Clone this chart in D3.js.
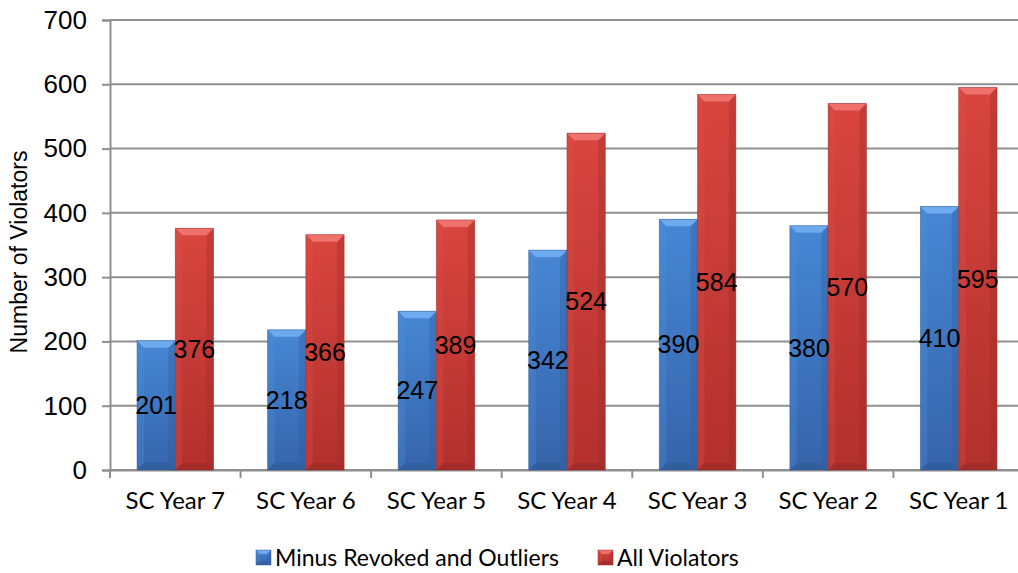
<!DOCTYPE html>
<html>
<head>
<meta charset="utf-8">
<script src="https://cdn.jsdelivr.net/npm/d3@7"></script>
<style>
  html, body { margin: 0; padding: 0; background: #ffffff; }
  svg { display: block; }
</style>
</head>
<body>
<svg id="chart" width="1018" height="573"></svg>
<script>
// Violator counts per Supervision Cycle year
const categories = ["SC Year 7", "SC Year 6", "SC Year 5", "SC Year 4", "SC Year 3", "SC Year 2", "SC Year 1"];
const minusRevoked = [201, 218, 247, 342, 390, 380, 410];
const allViolators = [376, 366, 389, 524, 584, 570, 595];
const yTicks = [0, 100, 200, 300, 400, 500, 600, 700];
const seriesNames = ["Minus Revoked and Outliers", "All Violators"];

(function () {
const svg = d3.select("#chart");
const plotLeft = 110, plotRight = 1024, plotTop = 20, plotBottom = 470;

const x = d3.scaleBand().domain(categories).range([plotLeft, plotRight]).padding(0);
const y = d3.scaleLinear().domain([0, 700]).range([plotBottom, plotTop]);
const barW = x.bandwidth() * 0.293;

const palettes = [
  { top: "#6eaaee", body0: "#4687d4", body1: "#3664ab", lf: "#5192dc", rt: "#2f5d9f", bt: "#2d568f", stroke: "#2e5a96" },
  { top: "#ee716c", body0: "#d9453f", body1: "#b2302d", lf: "#df4f4a", rt: "#9e2a27", bt: "#912624", stroke: "#9a2c2a" }
];

const defs = svg.append("defs");
palettes.forEach((p, i) => {
  const g = defs.append("linearGradient").attr("id", "body" + i)
    .attr("x1", 0).attr("y1", 0).attr("x2", 0).attr("y2", 1);
  g.append("stop").attr("offset", "0%").attr("stop-color", p.body0);
  g.append("stop").attr("offset", "100%").attr("stop-color", p.body1);
});

// Gridlines
svg.append("g").selectAll("line").data(yTicks).join("line")
  .attr("x1", plotLeft).attr("x2", plotRight)
  .attr("y1", d => y(d)).attr("y2", d => y(d))
  .attr("stroke", "#8f8f8f").attr("stroke-width", 2);

// Y axis
const yAxis = svg.append("g").attr("transform", `translate(${plotLeft},0)`)
  .call(d3.axisLeft(y).tickValues(yTicks).tickSize(8).tickPadding(15));
yAxis.select(".domain").attr("stroke", "#8f8f8f").attr("stroke-width", 2);
yAxis.selectAll(".tick line").attr("stroke", "#8f8f8f").attr("stroke-width", 2);
yAxis.selectAll(".tick text")
  .attr("font-family", "'Liberation Sans', Arial, sans-serif")
  .attr("font-size", 26).attr("fill", "#000");

// X axis
const xAxis = svg.append("g").attr("transform", `translate(0,${plotBottom})`)
  .call(d3.axisBottom(x).tickSize(0).tickPadding(22));
xAxis.select(".domain").attr("stroke", "#8f8f8f").attr("stroke-width", 2);
xAxis.selectAll(".tick text")
  .attr("font-family", "Lato, 'Open Sans', sans-serif")
  .attr("font-size", 24).attr("fill", "#000");
// category boundary ticks
svg.append("g").selectAll("line")
  .data(d3.range(categories.length + 1))
  .join("line")
  .attr("x1", i => plotLeft + i * x.bandwidth()).attr("x2", i => plotLeft + i * x.bandwidth())
  .attr("y1", plotBottom).attr("y2", plotBottom + 8)
  .attr("stroke", "#8f8f8f").attr("stroke-width", 2);

// Bevelled bar shape
function drawBar(g, x0, w, yTop, yBot, p, i, bvMax) {
  const bv = Math.min(bvMax, (yBot - yTop) / 2);
  g.append("rect").attr("x", x0).attr("y", yTop).attr("width", w).attr("height", yBot - yTop)
    .attr("fill", `url(#body${i})`);
  const poly = pts => pts.map(q => q.join(",")).join(" ");
  g.append("polygon").attr("points", poly([[x0, yTop], [x0 + bv, yTop + bv], [x0 + bv, yBot - bv], [x0, yBot]]))
    .attr("fill", p.lf).attr("opacity", 0.3);
  g.append("polygon").attr("points", poly([[x0 + w, yTop], [x0 + w - bv, yTop + bv], [x0 + w - bv, yBot - bv], [x0 + w, yBot]]))
    .attr("fill", p.rt).attr("opacity", 0.35);
  g.append("polygon").attr("points", poly([[x0, yBot], [x0 + bv, yBot - bv], [x0 + w - bv, yBot - bv], [x0 + w, yBot]]))
    .attr("fill", p.bt).attr("opacity", 0.45);
  g.append("polygon").attr("points", poly([[x0, yTop], [x0 + w, yTop], [x0 + w - bv, yTop + bv], [x0 + bv, yTop + bv]]))
    .attr("fill", p.top);
  g.append("rect").attr("x", x0).attr("y", yTop).attr("width", w).attr("height", yBot - yTop)
    .attr("fill", "none").attr("stroke", p.stroke).attr("stroke-width", 0.8).attr("opacity", 0.6);
}

const series = [minusRevoked, allViolators];
const bars = svg.append("g");
categories.forEach((c, ci) => {
  const cx = x(c) + x.bandwidth() / 2;
  series.forEach((vals, si) => {
    const x0 = cx - barW + si * barW;
    drawBar(bars, x0, barW, y(vals[ci]), y(0), palettes[si], si, 7);
  });
});

// Value labels, centred in each bar
const labels = svg.append("g")
  .attr("font-family", "'Liberation Sans', Arial, sans-serif")
  .attr("font-size", 25).attr("fill", "#000").attr("text-anchor", "middle");
categories.forEach((c, ci) => {
  const cx = x(c) + x.bandwidth() / 2;
  series.forEach((vals, si) => {
    const bx = cx - barW + si * barW + barW / 2;
    labels.append("text")
      .attr("x", bx).attr("y", (y(vals[ci]) + y(0)) / 2)
      .attr("dy", "0.35em").text(vals[ci]);
  });
});

// Y axis title
svg.append("text")
  .attr("transform", `translate(27,252) rotate(-90)`)
  .attr("text-anchor", "middle")
  .attr("font-family", "'Liberation Sans', Arial, sans-serif")
  .attr("font-size", 23).attr("fill", "#000")
  .text("Number of Violators");

// Legend
const legendItems = [{ name: seriesNames[0], x: 256 }, { name: seriesNames[1], x: 598 }];
const legend = svg.append("g");
legendItems.forEach((it, i) => {
  const p = palettes[i];
  drawBar(legend, it.x, 15, 550, 565, p, i, 4);
  legend.append("text")
    .attr("x", it.x + 19).attr("y", 558).attr("dy", "0.35em")
    .attr("font-family", "Lato, 'Open Sans', sans-serif")
    .attr("font-size", 23).attr("fill", "#000")
    .text(it.name);
});
})();
</script>
</body>
</html>
